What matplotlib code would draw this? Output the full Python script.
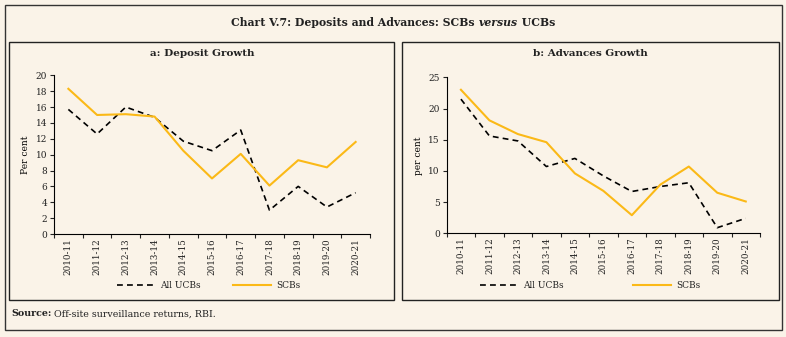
import matplotlib
matplotlib.use("Agg")
import matplotlib.pyplot as plt
from matplotlib.patches import Rectangle

years = ["2010-11", "2011-12", "2012-13", "2013-14", "2014-15", "2015-16",
         "2016-17", "2017-18", "2018-19", "2019-20", "2020-21"]
dep_ucb = [15.7, 12.6, 16.0, 14.7, 11.7, 10.5, 13.1, 3.0, 6.0, 3.4, 5.2]
dep_scb = [18.3, 15.0, 15.1, 14.8, 10.5, 7.0, 10.1, 6.1, 9.3, 8.4, 11.6]
adv_ucb = [21.5, 15.6, 14.8, 10.7, 12.0, 9.2, 6.7, 7.5, 8.1, 0.9, 2.4]
adv_scb = [23.0, 18.1, 15.9, 14.6, 9.6, 6.8, 2.9, 7.8, 10.7, 6.5, 5.1]

BG = "#FAF3E8"
ORANGE = "#FBB917"
TXT = "#222222"
W, H = 786, 337
plt.rcParams['font.family'] = ['DejaVu Serif']
plt.rcParams['text.color'] = TXT
plt.rcParams['xtick.color'] = TXT
plt.rcParams['ytick.color'] = TXT

fig = plt.figure(figsize=(W/100, H/100), dpi=100, facecolor=BG)

def fx(px): return px / W
def fy(py): return 1 - py / H

# outer frame and panel frames
fig.add_artist(Rectangle((fx(5), fy(330)), fx(777), (325)/H, transform=fig.transFigure,
                         fill=False, edgecolor="#333333", lw=1.0))
for x0, x1 in [(9, 394), (402, 779)]:
    fig.add_artist(Rectangle((fx(x0), fy(300)), fx(x1 - x0), (300 - 42)/H,
                             transform=fig.transFigure, fill=False, edgecolor="#222222", lw=1.0))

def panel(rect, ucb, scb, ymax, ystep, ylabel, title, title_x, leg_x, colsp):
    ax = fig.add_axes(rect)
    ax.set_facecolor(BG)
    x = list(range(len(years)))
    ax.plot(x, ucb, color="black", lw=1.2, dashes=(3.5, 2.5), label="All UCBs")
    ax.plot(x, scb, color=ORANGE, lw=1.5, label="SCBs")
    ax.set_xlim(-0.5, len(years) - 0.5)
    ax.set_ylim(0, ymax)
    ax.set_yticks(range(0, ymax + 1, ystep))
    ax.set_xticks([i - 0.5 for i in range(len(years) + 1)])
    ax.set_xticklabels([])
    ax.set_xticks(x, minor=True)
    ax.set_xticklabels(years, minor=True, rotation=90, fontsize=6.3)
    ax.tick_params(axis='x', which='minor', length=0, pad=3)
    ax.tick_params(axis='x', which='major', length=3, width=0.8, direction='out')
    ax.tick_params(axis='y', length=3, width=0.8, labelsize=6.5, pad=2)
    for s in ['top', 'right']:
        ax.spines[s].set_visible(False)
    for s in ['left', 'bottom']:
        ax.spines[s].set_linewidth(0.8)
    ax.set_ylabel(ylabel, fontsize=6.5, labelpad=4)
    fig.text(fx(title_x), fy(54), title, ha='center', va='center', fontsize=7.5, fontweight='bold')
    fig.legend(handles=ax.get_lines(), loc='center left', bbox_to_anchor=(fx(leg_x), fy(286)),
               ncol=2, frameon=False, fontsize=6.5, handlelength=4.3, columnspacing=colsp,
               handletextpad=0.5, borderaxespad=0, borderpad=0)
    return ax

panel([fx(54), fy(234), fx(316), (234 - 75.3)/H], dep_ucb, dep_scb, 20, 2, "Per cent",
      "a: Deposit Growth", 202, 117, 3.5)
panel([fx(446.7), fy(233.3), fx(313.3), (233.3 - 77.3)/H], adv_ucb, adv_scb, 25, 5, "per cent",
      "b: Advances Growth", 590, 480, 7.6)

# main title with italic 'versus'
fig.canvas.draw()
r = fig.canvas.get_renderer()
parts = [("Chart V.7: Deposits and Advances: SCBs ", 'normal'), ("versus", 'italic'), (" UCBs", 'normal')]
texts = []
for s, st in parts:
    t = fig.text(0, fy(23), s, fontsize=7.8, fontweight='bold', fontstyle=st, va='center', ha='left')
    texts.append(t)
widths = [t.get_window_extent(r).width for t in texts]
total = sum(widths)
x = W / 2 - total / 2
for t, w in zip(texts, widths):
    t.set_x(x / W)
    x += w

# source
t1 = fig.text(fx(11), fy(314), "Source:", fontsize=6.8, fontweight='bold', va='center')
w1 = t1.get_window_extent(r).width
fig.text(fx(11 + w1 + 3), fy(314), "Off-site surveillance returns, RBI.", fontsize=6.8, va='center')

fig.savefig("out.png", dpi=100, facecolor=BG)
